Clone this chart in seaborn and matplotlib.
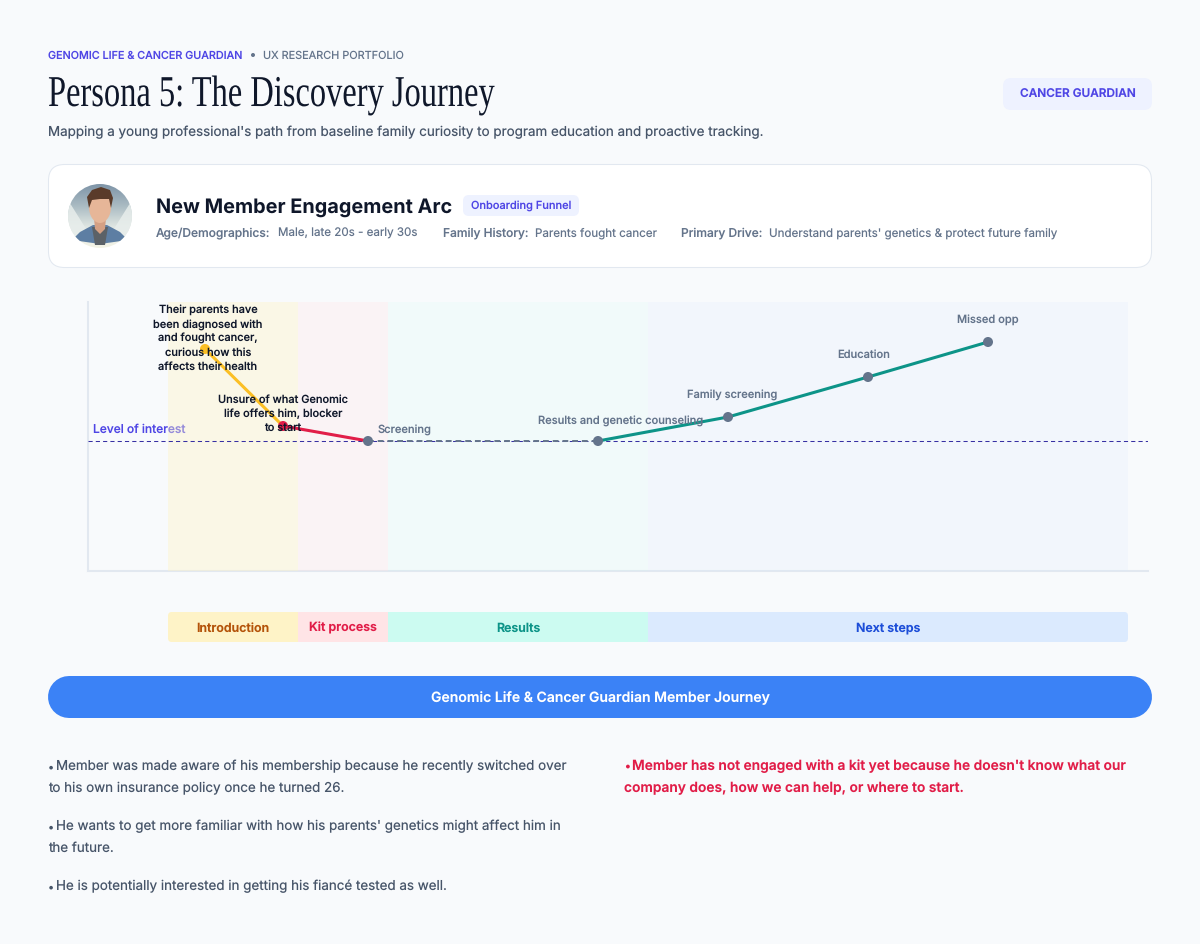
import numpy as np
import pandas as pd
import seaborn as sns
import matplotlib
matplotlib.use("Agg")
import matplotlib.pyplot as plt
from matplotlib.patches import FancyBboxPatch, Circle, Ellipse, Polygon
from matplotlib.patheffects import AbstractPathEffect
from matplotlib.transforms import Affine2D

# stages of the journey, x runs in px-like units from the start of Introduction
stage_names = ["Introduction", "Kit process", "Results", "Next steps"]
stage_edges = [0, 130, 220, 480, 960]
stage_fill = ["#fef3c7", "#ffe4e6", "#ccfbf1", "#dbeafe"]
stage_alpha = [0.4, 0.3, 0.15, 0.2]
stage_text = ["#b45309", "#e11d48", "#0d9488", "#1d4ed8"]

touch_x = [37, 115, 200, 430, 560, 700, 820]
touch_y = [92, 15, 0, 0, 24, 64, 99]
touch_labels = ["", "", "Screening", "Results and genetic counseling",
                "Family screening", "Education", "Missed opp"]
touch_colors = ["#fbbf24", "#e11d48", "#64748b", "#64748b", "#64748b", "#64748b", "#64748b"]

segment_names = ["intro", "kit", "wait", "next"]
segment_points = [[0, 1], [1, 2], [2, 3], [3, 4, 5, 6]]
segment_colors = ["#fbbf24", "#e11d48", "#475569", "#0d9488"]

note_1 = "Their parents have\nbeen diagnosed with\nand fought cancer,\ncurious how this\naffects their health"
note_2 = "Unsure of what Genomic\nlife offers him, blocker\nto start"

left_notes = [
    ["Member was made aware of his membership because he recently switched over",
     "to his own insurance policy once he turned 26."],
    ["He wants to get more familiar with how his parents' genetics might affect him in",
     "the future."],
    ["He is potentially interested in getting his fiancé tested as well."],
]
right_note = ["Member has not engaged with a kit yet because he doesn't know what our",
              "company does, how we can help, or where to start."]

info_labels = ["Age/Demographics:", "Family History:", "Primary Drive:"]
info_values = ["Male, late 20s - early 30s", "Parents fought cancer",
               "Understand parents' genetics & protect future family"]

BG = "#f8fafc"
INDIGO = "#4f46e5"
SLATE = "#64748b"
DARK = "#0f172a"
W, H = 1200, 944


def px(size):
    return size * 0.72


class Narrow(AbstractPathEffect):
    # squeezes glyphs sideways, no condensed serif is installed
    def __init__(self, sx):
        super().__init__()
        self.sx = sx

    def draw_path(self, renderer, gc, tpath, affine, rgbFace=None):
        renderer.draw_path(gc, tpath, Affine2D().scale(self.sx, 1) + affine, rgbFace)


sns.set_theme(style="white")
plt.rcParams["font.family"] = ["Inter", "DejaVu Sans"]
plt.rcParams["text.hinting"] = "none"

fig = plt.figure(figsize=(12, 9.44), dpi=100, facecolor=BG)


def axes_px(x0, y0, x1, y1, **kw):
    return fig.add_axes([x0 / W, 1 - y1 / H, (x1 - x0) / W, (y1 - y0) / H], **kw)


# page layer in pixel coords
page = fig.add_axes([0, 0, 1, 1], zorder=0)
page.set_xlim(0, W)
page.set_ylim(H, 0)
page.axis("off")


def pill(x0, y0, x1, y1, r, fc, ec="none", lw=1):
    p = FancyBboxPatch((x0 + r, y0 + r), x1 - x0 - 2 * r, y1 - y0 - 2 * r,
                       boxstyle=f"round,pad={r},rounding_size={r}",
                       fc=fc, ec=ec, lw=lw, mutation_aspect=1)
    page.add_patch(p)
    return p


page.text(48, 56, "GENOMIC LIFE & CANCER GUARDIAN", color=INDIGO, fontsize=px(10.8),
          fontweight="medium", va="center")
page.add_patch(Circle((253, 55), 2, fc=SLATE, ec="none"))
page.text(263, 56, "UX RESEARCH PORTFOLIO", color=SLATE, fontsize=px(10.9), va="center")
title = page.text(48, 106, "Persona 5: The Discovery Journey", family="Liberation Serif", color=DARK,
                  fontsize=px(44), va="baseline")
title.set_path_effects([Narrow(0.738)])
page.text(48, 132, "Mapping a young professional's path from baseline family curiosity to program education and proactive tracking.",
          color="#475569", fontsize=px(13.42), va="center")
pill(1003, 78, 1152, 110, 8, "#eef2ff")
page.text(1077.5, 95, "CANCER GUARDIAN", color=INDIGO, fontsize=px(11.8), fontweight="semibold",
          ha="center", va="center")

# persona card
pill(48.5, 164.5, 1151.5, 267.5, 16, "white", ec="#e2e8f0", lw=0.75)
clip = Circle((100, 216), 32, transform=page.transData)
grad = page.imshow(np.linspace(0, 1, 64).reshape(-1, 1), extent=(68, 132, 248, 184), aspect="auto",
                   cmap=matplotlib.colors.LinearSegmentedColormap.from_list(
                       "sky", ["#7f95a8", "#a9bac2", "#dfe6e2", "#f3f3e6"]), zorder=2)
grad.set_clip_path(clip)
page.set_xlim(0, W)
page.set_ylim(H, 0)
avatar_shapes = [
    Polygon([(68, 200), (88, 232), (76, 240), (66, 225)], fc="#e8eeec", alpha=0.85),
    Polygon([(132, 200), (112, 232), (124, 240), (134, 225)], fc="#e8eeec", alpha=0.85),
    Polygon([(72, 240), (80, 232), (93, 225), (107, 225), (120, 232), (128, 240), (100, 244)], fc="#5d7ea3"),
    Polygon([(92, 227), (108, 227), (105, 245), (95, 245)], fc="#5b6167"),
    Polygon([(94, 218), (106, 218), (105, 229), (100, 234), (95, 229)], fc="#d4a084"),
    Ellipse((100, 207), 22, 32, fc="#e6b698"),
    Polygon([(89, 208), (87, 197), (92, 190), (101, 187), (110, 190), (113, 198), (111, 208),
             (109, 199), (100, 199), (92, 200)], fc="#5a3b2a"),
]
for shape in avatar_shapes:
    shape.set_zorder(3)
    shape.set_edgecolor("none")
    page.add_patch(shape)
    shape.set_clip_path(clip)

page.text(156, 205, "New Member Engagement Arc", color=DARK, fontsize=px(19.9), fontweight="bold",
          va="center_baseline")
pill(463, 195, 579, 216, 6, "#eef2ff")
page.text(521, 206, "Onboarding Funnel", color=INDIGO, fontsize=px(11), fontweight="medium",
          ha="center", va="center")
label_x = [156, 443, 681]
value_x = [278, 535, 769]
for lab, val, lx, vx in zip(info_labels, info_values, label_x, value_x):
    page.text(lx, 232, lab, color=SLATE, fontsize=px(12), fontweight="medium", va="center_baseline")
    page.text(vx, 232, val, color=SLATE, fontsize=px(11.6), va="center_baseline")

# chart
ax = axes_px(88, 302, 1148, 571, zorder=1)
ax.patch.set_alpha(0)
ax.set_xlim(-80, 980)
ax.set_ylim(-130, 139)

seg_rows = []
for name, idx in zip(segment_names, segment_points):
    for i in idx:
        seg_rows.append({"segment": name, "x": touch_x[i], "y": touch_y[i]})
seg_df = pd.DataFrame(seg_rows)

ax.text(-75, 11, "Level of interest", color=INDIGO, fontsize=px(12), fontweight="medium",
        va="center", zorder=1)
for i in range(len(stage_names)):
    ax.axvspan(stage_edges[i], stage_edges[i + 1], color=stage_fill[i], alpha=stage_alpha[i], lw=0, zorder=2)
ax.axhline(0, color="#3730a3", lw=0.75, dashes=(4, 3), zorder=3)

sns.lineplot(data=seg_df[seg_df.segment != "wait"], x="x", y="y", hue="segment",
             palette=dict(zip(segment_names, segment_colors)), sort=False, lw=2.2,
             legend=False, ax=ax, zorder=4)
sns.lineplot(data=seg_df[seg_df.segment == "wait"], x="x", y="y", color=SLATE, sort=False,
             lw=1.4, ls=(0, (3, 2)), legend=False, ax=ax, zorder=4)
sns.scatterplot(x=touch_x, y=touch_y, hue=list(range(len(touch_x))), palette=touch_colors,
                s=52, lw=0, legend=False, ax=ax, zorder=5)

for x, y, lab, ha, dx, dy in zip(touch_x, touch_y, touch_labels,
                                 ["", "", "left", "right", "center", "center", "center"],
                                 [0, 0, 10, 105, 4, -4, 0], [0, 0, 12, 21, 23, 23, 23]):
    if lab:
        ax.text(x + dx, y + dy - 1, lab, color=SLATE, fontsize=px(11.1), fontweight="medium",
                ha=ha, va="center", zorder=6)
ax.text(touch_x[0] + 3, touch_y[0] + 11, note_1, color=DARK, fontsize=px(11), fontweight="medium",
        ha="center", va="center", ma="center", linespacing=1.4, zorder=6)
ax.text(touch_x[1], touch_y[1] + 12, note_2, color=DARK, fontsize=px(11), fontweight="medium",
        ha="center", va="center", ma="center", linespacing=1.4, zorder=6)

ax.set_xticks([])
ax.set_yticks([])
ax.set_xlabel("")
ax.set_ylabel("")
sns.despine(ax=ax)
for side in ["left", "bottom"]:
    ax.spines[side].set_color("#e2e8f0")
    ax.spines[side].set_linewidth(1.5)
    ax.spines[side].set_zorder(1)

# stage strip, same x scale as the chart
strip = axes_px(88, 612, 1148, 642, zorder=1)
strip.patch.set_alpha(0)
strip.set_xlim(-80, 980)
strip.set_ylim(0, 1)
strip.axis("off")
widths = np.diff(stage_edges)
bars = strip.barh([0.5] * 4, widths, left=stage_edges[:-1], height=1, color=stage_fill, lw=0)
outline = FancyBboxPatch((4, 0.13), 952, 0.74, boxstyle="round,pad=4,rounding_size=4",
                         mutation_aspect=1 / 30, transform=strip.transData, fc="none", ec="none")
strip.add_patch(outline)
for b in bars:
    b.set_clip_path(outline)
for i, name in enumerate(stage_names):
    strip.text((stage_edges[i] + stage_edges[i + 1]) / 2, 0.5, name, color=stage_text[i],
               fontsize=px(12.4), fontweight="semibold", ha="center", va="center_baseline")

# journey banner, round caps give the full pill shape
page.plot([69, 1131], [697, 697], color="#3b82f6", lw=px(42), solid_capstyle="round")
page.text(600, 698, "Genomic Life & Cancer Guardian Member Journey", color="white", fontsize=px(14),
          fontweight="semibold", ha="center", va="center")

# notes
note_base = [[770, 792], [830, 852], [890]]
for lines, bases in zip(left_notes, note_base):
    page.text(48, bases[0], "•", color="#475569", fontsize=px(11), va="baseline")
    for j, (line, y) in enumerate(zip(lines, bases)):
        page.text(56 if j == 0 else 48, y, line, color="#475569", fontsize=px(13.4), va="baseline")
page.text(624, 770, "•", color="#e11d48", fontsize=px(11.5), fontweight="semibold", va="baseline")
page.text(632, 770, right_note[0], color="#e11d48", fontsize=px(13.8), fontweight="semibold", va="baseline")
page.text(624, 792, right_note[1], color="#e11d48", fontsize=px(13.8), fontweight="semibold", va="baseline")

fig.savefig("out.png", dpi=100, facecolor=BG)
